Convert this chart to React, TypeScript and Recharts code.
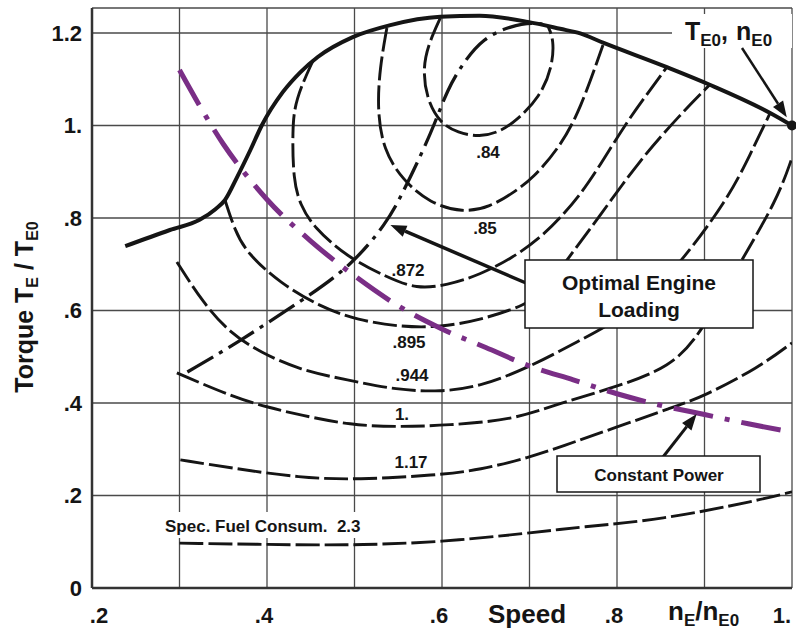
import React from 'react'
import { LineChart, Line, XAxis, YAxis, CartesianGrid, ReferenceDot } from 'recharts'

// ---- data (speed n_E/n_E0, torque T_E/T_E0) ----
const X_TICKS = [0.2, 0.3, 0.4, 0.5, 0.6, 0.7, 0.8, 0.9, 1.0]
const X_TICK_LABELS = ['.2', '', '.4', '', '.6', '', '.8', '', '1.']
const Y_TICKS = [0, 0.2, 0.4, 0.6, 0.8, 1.0, 1.2]
const Y_TICK_LABELS = ['0', '.2', '.4', '.6', '.8', '1.', '1.2']

// full-load torque curve
const FULL_LOAD = [
  [0.238, 0.739], [0.289, 0.774], [0.323, 0.796], [0.341, 0.819], [0.352, 0.839],
  [0.366, 0.889], [0.381, 0.947], [0.394, 1.0], [0.418, 1.072], [0.438, 1.115],
  [0.458, 1.148], [0.498, 1.191], [0.541, 1.217], [0.598, 1.235], [0.643, 1.237],
  [0.698, 1.224], [0.735, 1.209], [0.758, 1.199], [0.784, 1.179], [0.857, 1.126],
  [0.906, 1.088], [0.975, 1.027], [1.0, 1.0],
]

// specific fuel consumption contours
const SFC_084 = [
  [0.598, 1.232], [0.584, 1.174], [0.578, 1.12], [0.583, 1.055], [0.598, 1.005],
  [0.618, 0.984], [0.643, 0.975], [0.666, 0.986], [0.686, 1.012], [0.712, 1.062],
  [0.726, 1.126], [0.728, 1.185], [0.721, 1.215],
]
const SFC_085 = [
  [0.537, 1.211], [0.529, 1.126], [0.526, 1.034], [0.533, 0.947], [0.555, 0.882],
  [0.586, 0.832], [0.624, 0.811], [0.655, 0.824], [0.681, 0.854], [0.704, 0.886],
  [0.735, 0.954], [0.758, 1.034], [0.784, 1.174],
]
const SFC_0872 = [
  [0.453, 1.142], [0.432, 1.055], [0.429, 0.99], [0.43, 0.882], [0.438, 0.828],
  [0.453, 0.781], [0.491, 0.716], [0.537, 0.672], [0.571, 0.646], [0.606, 0.655],
  [0.643, 0.677], [0.681, 0.714], [0.712, 0.757], [0.735, 0.8], [0.758, 0.85],
  [0.781, 0.915], [0.809, 1.001], [0.832, 1.062], [0.857, 1.126],
]
const SFC_0895 = [
  [0.352, 0.839], [0.363, 0.774], [0.377, 0.724], [0.415, 0.659], [0.461, 0.608],
  [0.503, 0.579], [0.555, 0.564], [0.598, 0.564], [0.643, 0.579], [0.697, 0.612],
  [0.718, 0.644], [0.741, 0.705], [0.781, 0.806], [0.826, 0.925], [0.872, 1.023],
  [0.906, 1.088],
]
const SFC_0944 = [
  [0.297, 0.705], [0.327, 0.616], [0.358, 0.551], [0.392, 0.51], [0.438, 0.471],
  [0.491, 0.45], [0.549, 0.428], [0.598, 0.424], [0.643, 0.435], [0.701, 0.478],
  [0.758, 0.536], [0.792, 0.569], [0.838, 0.634], [0.875, 0.709], [0.926, 0.839],
  [0.952, 0.936], [0.975, 1.027],
]
const SFC_100 = [
  [0.297, 0.465], [0.361, 0.413], [0.4, 0.391], [0.438, 0.374], [0.495, 0.352],
  [0.552, 0.348], [0.606, 0.352], [0.681, 0.363], [0.735, 0.4], [0.8, 0.435],
  [0.861, 0.478], [0.895, 0.547], [0.941, 0.705], [0.983, 0.839], [1.0, 0.93],
]
const SFC_117 = [
  [0.301, 0.277], [0.361, 0.259], [0.438, 0.238], [0.503, 0.234], [0.594, 0.244],
  [0.643, 0.255], [0.701, 0.283], [0.735, 0.305], [0.8, 0.348], [0.861, 0.389],
  [0.898, 0.413], [0.963, 0.478], [1.0, 0.53],
]
const SFC_230 = [
  [0.3, 0.097], [0.438, 0.093], [0.506, 0.093], [0.598, 0.099], [0.701, 0.119],
  [0.758, 0.132], [0.849, 0.147], [0.963, 0.19], [1.0, 0.208],
]

// optimal engine loading (dash-dot)
const OPTIMAL = [
  [0.309, 0.467], [0.366, 0.53], [0.441, 0.623], [0.495, 0.694], [0.537, 0.789],
  [0.555, 0.854], [0.575, 0.932], [0.592, 1.005], [0.606, 1.077], [0.624, 1.135],
  [0.647, 1.189], [0.678, 1.215], [0.706, 1.224], [0.721, 1.215],
]

// constant power hyperbola
const CONST_POWER = [
  [0.3, 1.12], [0.35, 0.96], [0.4, 0.84], [0.45, 0.75], [0.5, 0.675], [0.55, 0.61],
  [0.6, 0.56], [0.65, 0.52], [0.7, 0.48], [0.75, 0.45], [0.8, 0.42], [0.85, 0.395],
  [0.9, 0.375], [0.95, 0.355], [1.0, 0.337],
]

const CONTOURS = [SFC_084, SFC_085, SFC_0872, SFC_0895, SFC_0944, SFC_100, SFC_117, SFC_230]

// ---- layout ----
const W = 796
const H = 634
const PL = 92, PR = 792, PT = 8, PB = 588
const X_DOMAIN = [0.2, 1.0]
const Y_DOMAIN = [0, 1.254]
const FONT = '"Liberation Sans", Arial, Helvetica, sans-serif'
const INK = '#151515'
const PURPLE = '#7a2e86'

const toPts = (arr: number[][]) => arr.map(([x, y]) => ({ x, y }))
const sx = (v: number) => PL + ((v - X_DOMAIN[0]) / (X_DOMAIN[1] - X_DOMAIN[0])) * (PR - PL)
const sy = (v: number) => PB - ((v - Y_DOMAIN[0]) / (Y_DOMAIN[1] - Y_DOMAIN[0])) * (PB - PT)

function XTick({ x, index }: any) {
  const label = X_TICK_LABELS[index] ?? ''
  if (!label) return null
  const last = index === X_TICKS.length - 1
  const shift = index === 0 ? 7 : -3
  return (
    <text x={last ? x - 1 : x + shift} y={623} textAnchor={last ? 'end' : 'middle'}
      fontFamily={FONT} fontWeight={700} fontSize={22} fill={INK}>
      {label}
    </text>
  )
}

function YTick({ y, index }: any) {
  return (
    <text x={82} y={y} dy="0.36em" textAnchor="end"
      fontFamily={FONT} fontWeight={700} fontSize={22} fill={INK}>
      {Y_TICK_LABELS[index]}
    </text>
  )
}

function Arrow({ x1, y1, x2, y2, w = 3 }: { x1: number; y1: number; x2: number; y2: number; w?: number }) {
  const ang = Math.atan2(y2 - y1, x2 - x1)
  const len = 16, half = 6
  const bx = x2 - len * Math.cos(ang), by = y2 - len * Math.sin(ang)
  const px = -Math.sin(ang) * half, py = Math.cos(ang) * half
  return (
    <g>
      <line x1={x1} y1={y1} x2={bx} y2={by} stroke={INK} strokeWidth={w} />
      <polygon points={`${x2},${y2} ${bx + px},${by + py} ${bx - px},${by - py}`} fill={INK} />
    </g>
  )
}

function Annotations() {
  const lbl = { fontFamily: FONT, fontWeight: 700, fill: INK } as const
  return (
    <svg width={W} height={H} style={{ position: 'absolute', left: 0, top: 0, pointerEvents: 'none' }}>
      {/* contour labels */}
      <text x={488} y={158} textAnchor="middle" fontSize={17} {...lbl}>.84</text>
      <text x={485} y={234} textAnchor="middle" fontSize={17} {...lbl}>.85</text>
      <text x={408} y={276} textAnchor="middle" fontSize={17} {...lbl}>.872</text>
      <text x={409} y={348} textAnchor="middle" fontSize={17} {...lbl}>.895</text>
      <text x={412} y={381} textAnchor="middle" fontSize={17} {...lbl}>.944</text>
      <text x={402} y={420} textAnchor="middle" fontSize={17} {...lbl}>1.</text>
      <text x={411} y={468} textAnchor="middle" fontSize={17} {...lbl}>1.17</text>
      <rect x={160} y={512} width={268} height={26} fill="#fff" />
      <text x={165} y={532} fontSize={17} {...lbl} xmlSpace="preserve">Spec. Fuel Consum.  2.3</text>

      {/* rated point label */}
      <rect x={672} y={14} width={120} height={34} fill="#fff" />
      <text x={685} y={40} fontSize={25} {...lbl}>
        T<tspan fontSize={17} dy={6}>E0</tspan><tspan dy={-6}>,</tspan>
        <tspan dx={8}>n</tspan><tspan fontSize={17} dy={6}>E0</tspan>
      </text>
      <Arrow x1={742} y1={48} x2={sx(0.994)} y2={sy(1.018)} w={2.5} />

      {/* optimal engine loading callout */}
      <Arrow x1={526} y1={283} x2={sx(0.541)} y2={sy(0.785)} w={3.5} />
      <rect x={525} y={260} width={228} height={68} fill="#fff" stroke={INK} strokeWidth={1.5} />
      <text x={639} y={290} textAnchor="middle" fontSize={21} {...lbl}>Optimal Engine</text>
      <text x={639} y={317} textAnchor="middle" fontSize={21} {...lbl}>Loading</text>

      {/* constant power callout */}
      <Arrow x1={663} y1={457} x2={sx(0.891)} y2={sy(0.376)} w={3} />
      <rect x={557} y={456} width={203} height={36} fill="#fff" stroke={INK} strokeWidth={1.5} />
      <text x={659} y={481} textAnchor="middle" fontSize={17} {...lbl}>Constant Power</text>

      {/* axis titles */}
      <text x={527} y={623} textAnchor="middle" fontSize={26} {...lbl}>Speed</text>
      <text x={668} y={620} fontSize={26} {...lbl}>
        n<tspan fontSize={17} dy={6}>E</tspan><tspan dy={-6}>/n</tspan><tspan fontSize={17} dy={6}>E0</tspan>
      </text>
      <text transform="rotate(-90)" x={-307} y={33} textAnchor="middle" fontSize={25} {...lbl}>
        Torque T<tspan fontSize={16} dy={5}>E</tspan><tspan dy={-5}> / T</tspan><tspan fontSize={16} dy={5}>E0</tspan>
      </text>
    </svg>
  )
}

export default function App() {
  return (
    <div style={{ position: 'absolute', left: 0, top: 0, width: W, height: H, background: '#fff' }}>
      <LineChart width={W} height={H} margin={{ top: PT, right: W - PR, bottom: 0, left: 0 }}>
        <CartesianGrid stroke="#4a4a4a" strokeWidth={1.3} />
        <XAxis type="number" dataKey="x" domain={X_DOMAIN} ticks={X_TICKS} height={H - PB}
          axisLine={{ stroke: '#333', strokeWidth: 2.5 }} tickLine={false} tick={<XTick />}
          interval={0} allowDataOverflow />
        <YAxis type="number" dataKey="y" domain={Y_DOMAIN} ticks={Y_TICKS} width={PL}
          axisLine={{ stroke: '#333', strokeWidth: 2.5 }} tickLine={false} tick={<YTick />}
          interval={0} allowDataOverflow />
        {CONTOURS.map((c, i) => (
          <Line key={i} data={toPts(c)} dataKey="y" type="basis" stroke={INK} strokeWidth={2.9}
            strokeDasharray="24 5" dot={false} isAnimationActive={false} />
        ))}
        <Line data={toPts(OPTIMAL)} dataKey="y" type="basis" stroke={INK} strokeWidth={3.3}
          strokeDasharray="30 7 4 7" dot={false} isAnimationActive={false} />
        <Line data={toPts(CONST_POWER)} dataKey="y" type="monotone" stroke={PURPLE} strokeWidth={5}
          strokeDasharray="40 12 5 12" dot={false} isAnimationActive={false} />
        <Line data={toPts(FULL_LOAD)} dataKey="y" type="monotone" stroke={INK} strokeWidth={4}
          dot={false} isAnimationActive={false} />
        <ReferenceDot x={1} y={1} r={5} fill={INK} stroke="none" />
      </LineChart>
      <Annotations />
    </div>
  )
}
